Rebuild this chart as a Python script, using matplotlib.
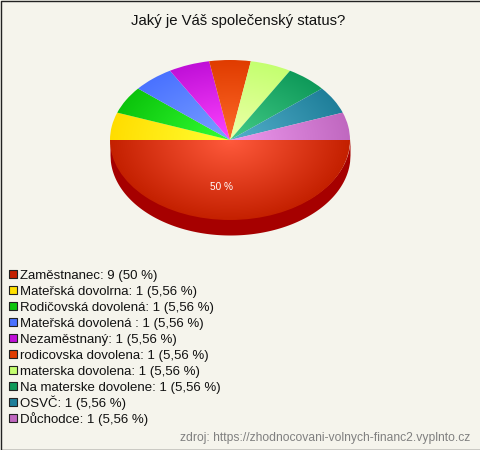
import numpy as np
import matplotlib
matplotlib.use("Agg")
import matplotlib.pyplot as plt
from matplotlib.colors import LinearSegmentedColormap

plt.rcParams['font.family'] = ['Liberation Sans', 'DejaVu Sans']

title = "Jaký je Váš společenský status?"
source = "zdroj: https://zhodnocovani-volnych-financ2.vyplnto.cz"
labels = ["Zaměstnanec", "Mateřská dovolrna", "Rodičovská dovolená", "Mateřská dovolená ",
          "Nezaměstnaný", "rodicovska dovolena", "materska dovolena",
          "Na materske dovolene", "OSVČ", "Důchodce"]
counts = [9, 1, 1, 1, 1, 1, 1, 1, 1, 1]
percents = ["50", "5,56", "5,56", "5,56", "5,56", "5,56", "5,56", "5,56", "5,56", "5,56"]
edge_colors = ["#c42000", "#ffdd00", "#0cc40c", "#4a72ff", "#c010d8",
               "#e03c00", "#c4ff70", "#0f9a5a", "#1f7f9a", "#c068c0"]
center_colors = ["#ff5a3c", "#ffff33", "#33ff33", "#7aa0ff", "#ff44ff",
                 "#ff6a2a", "#eeffaa", "#44cc88", "#55b0cc", "#ee99ee"]
legend_colors = ["#c42000", "#ffe000", "#0cc40c", "#4a72ff", "#c010d8",
                 "#e03c00", "#c4ff70", "#0f9a5a", "#1f7f9a", "#c068c0"]
BG = "#f5f4ec"
W, H = 480, 450
fig = plt.figure(figsize=(W/100, H/100), dpi=100, facecolor=BG)

def box(l, t, r, b):
    return [l/W, 1-b/H, (r-l)/W, (b-t)/H]

depth = 15/80
ax = fig.add_axes(box(110, 60, 350, 235))
wedges, _ = ax.pie(counts, startangle=0, counterclock=False, radius=1, center=(0, 0))
ax.set_aspect('auto')
ax.set_xlim(-1, 1)
ax.set_ylim(-1-depth, 1)
ax.axis('off')

xs = np.linspace(-1, 1, 600)
ybot = -np.sqrt(np.clip(1-xs**2, 0, 1))
ax.fill_between(xs, ybot-depth, ybot+0.02, color="#a60000", lw=0, zorder=0)

g = np.linspace(-1.02, 1.02, 500)
X, Y = np.meshgrid(g, g)
R = np.clip(np.hypot(X, Y), 0, 1)
for w, ec, cc in zip(wedges, edge_colors, center_colors):
    w.set_facecolor('none'); w.set_edgecolor('none')
    cmap = LinearSegmentedColormap.from_list("g", [cc, ec])
    im = ax.imshow(R, cmap=cmap, vmin=0, vmax=1, extent=(-1.02, 1.02, -1.02, 1.02),
                   origin='lower', aspect='auto', zorder=2, interpolation='bilinear')
    im.set_clip_path(w)
ax.set_xlim(-1, 1)
ax.set_ylim(-1-depth, 1)

ov = fig.add_axes([0, 0, 1, 1])
ov.set_xlim(0, W); ov.set_ylim(H, 0); ov.axis('off'); ov.patch.set_alpha(0)

ov.text(238, 21, title, ha='center', va='center', fontsize=10.7, color='#111111')
ov.text(222, 187, "50 %", ha='center', va='center', fontsize=7.2, color='white')

for i, (lab, c, p, col) in enumerate(zip(labels, counts, percents, legend_colors)):
    y = 274 + i*16.05
    ov.scatter([13], [y], s=30, marker='s', c=col, edgecolors='#222222', linewidths=0.8, zorder=3)
    ov.text(20, y+5, f"{lab}: {c} ({p} %)", ha='left', va='baseline', fontsize=9.5, color='#111111')

ov.text(470, 438, source, ha='right', va='center', fontsize=8.72, color='#808080')

ov.plot([W, 0.5, 0.5, W], [0.5, 0.5, H-0.5, H-0.5], color='#222222', lw=1, clip_on=False)

fig.savefig("out.png", dpi=100, facecolor=BG)
